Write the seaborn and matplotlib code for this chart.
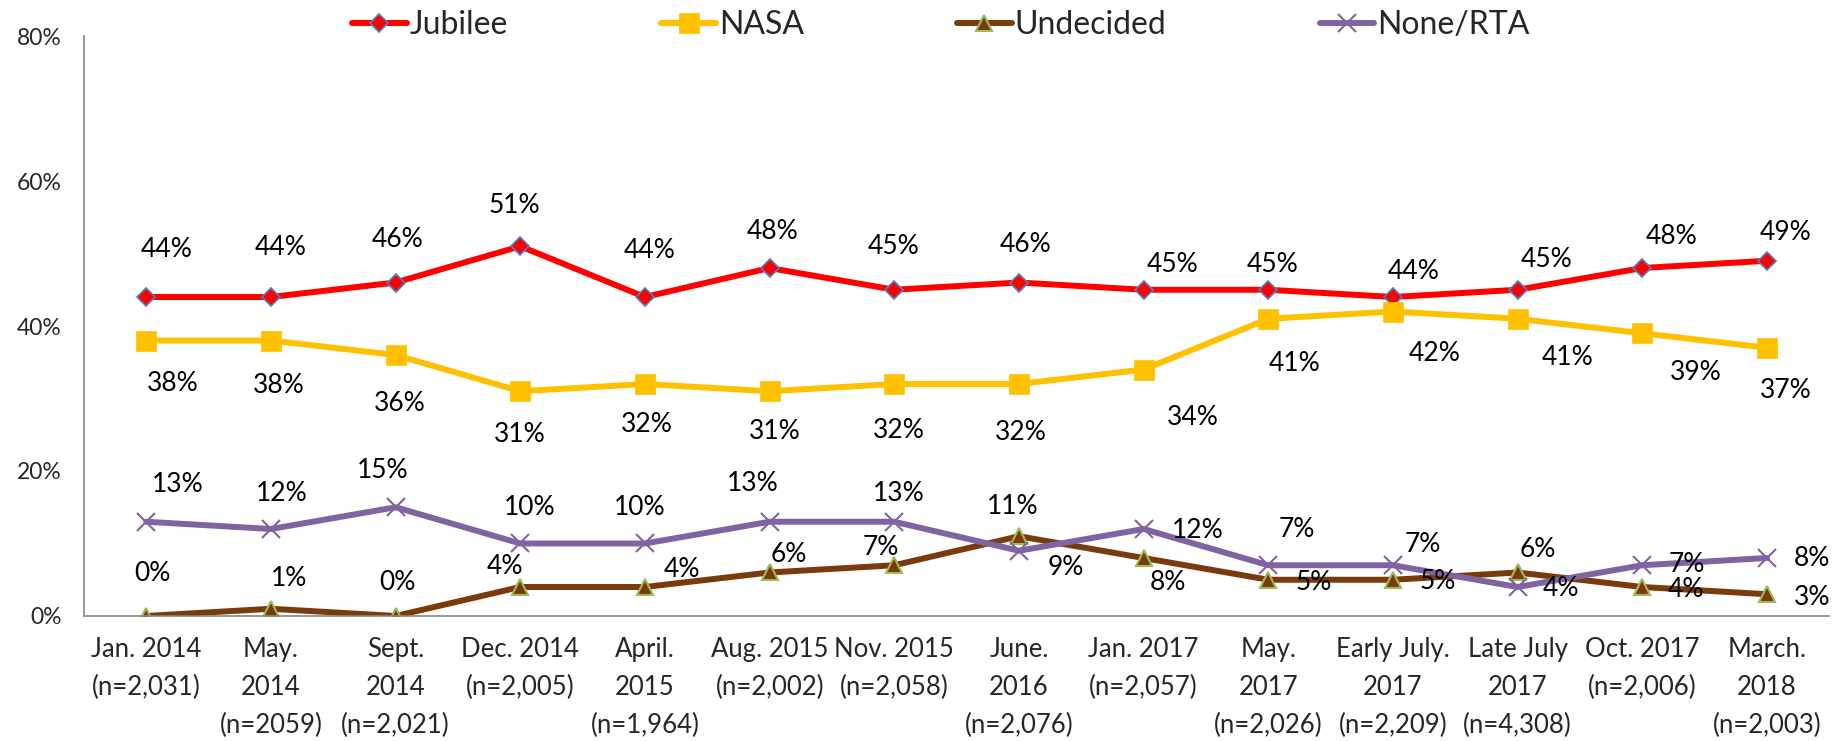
import numpy as np
import pandas as pd
import matplotlib
matplotlib.use("Agg")
import matplotlib.pyplot as plt
import seaborn as sns

# survey rounds (x axis)
surveys = ["Jan. 2014\n(n=2,031)", "May.\n2014\n(n=2059)", "Sept.\n2014\n(n=2,021)",
           "Dec. 2014\n(n=2,005)", "April.\n2015\n(n=1,964)", "Aug. 2015\n(n=2,002)",
           "Nov. 2015\n(n=2,058)", "June.\n2016\n(n=2,076)", "Jan. 2017\n(n=2,057)",
           "May.\n2017\n(n=2,026)", "Early July.\n2017\n(n=2,209)", "Late July\n2017\n(n=4,308)",
           "Oct. 2017\n(n=2,006)", "March.\n2018\n(n=2,003)"]

jubilee = [44, 44, 46, 51, 44, 48, 45, 46, 45, 45, 44, 45, 48, 49]
nasa = [38, 38, 36, 31, 32, 31, 32, 32, 34, 41, 42, 41, 39, 37]
undecided = [0, 1, 0, 4, 4, 6, 7, 11, 8, 5, 5, 6, 4, 3]
none_rta = [13, 12, 15, 10, 10, 13, 13, 9, 12, 7, 7, 4, 7, 8]

series_names = ["Jubilee", "NASA", "Undecided", "None/RTA"]

# styling per series
styles = {
    "Jubilee": dict(color="#FF0000", marker="D", markersize=9, mec="#4F81BD", mew=1.2),
    "NASA": dict(color="#FFC000", marker="s", markersize=14, mec="#FFC000", mew=0.5),
    "Undecided": dict(color="#7A3B0C", marker="^", markersize=12, mec="#9BBB59", mew=1.5),
    "None/RTA": dict(color="#8064A2", marker="x", markersize=13, mec="#8064A2", mew=1.5),
}

# data label offsets in pixels (dx, dy), placement only
label_offsets = {
    "Jubilee": [(20, 48), (10, 50), (2, 43), (-6, 41), (5, 47), (3, 37), (-1, 43),
                (7, 38), (29, 25), (4, 25), (21, 26), (29, 30), (29, 32), (19, 28)],
    "NASA": [(26, -43), (8, -45), (4, -48), (-1, -43), (2, -40), (5, -40), (5, -46),
             (2, -48), (49, -48), (26, -45), (42, -42), (50, -39), (53, -39), (19, -43)],
    "Undecided": [(6, 42), (18, 30), (2, 33), (-15, 20), (37, 17), (19, 18), (-13, 18),
                  (-6, 30), (24, -25), (45, -3), (45, -2), (20, 23), (44, -3), (45, -3)],
    "None/RTA": [(31, 37), (11, 35), (-13, 37), (9, 36), (-5, 36), (-17, 38), (4, 28),
                 (47, -17), (54, -2), (29, 36), (30, 21), (43, -2), (44, 1), (45, -1)],
}

df = pd.DataFrame({
    "survey": surveys * 4,
    "party": np.repeat(series_names, len(surveys)),
    "share": jubilee + nasa + undecided + none_rta,
})

sns.set_style("white")
plt.rcParams["font.family"] = ["Lato", "DejaVu Sans"]

fig, ax = plt.subplots(figsize=(18.45, 7.41), dpi=100)
fig.subplots_adjust(left=0.0455, right=0.9915, bottom=0.1687, top=0.9514)

for name in series_names:
    st = styles[name]
    sub = df[df["party"] == name]
    sns.lineplot(data=sub, x="survey", y="share", ax=ax, label=name, sort=False,
                 color=st["color"], linewidth=4.3, marker=st["marker"],
                 markersize=st["markersize"], markeredgecolor=st["mec"],
                 markeredgewidth=st["mew"], markerfacecolor=st["color"])
    for i, v in enumerate(sub["share"]):
        dx, dy = label_offsets[name][i]
        ax.annotate(f"{v}%", (i, v), xytext=(dx, dy), textcoords="offset pixels",
                    ha="center", va="center", fontsize=19, color="black")

ax.set_xlim(-0.5, len(surveys) - 0.5)
ax.set_ylim(0, 80)
ax.set_yticks([0, 20, 40, 60, 80])
ax.set_yticklabels([f"{t}%" for t in [0, 20, 40, 60, 80]], fontsize=16.5)

# category boundaries as major ticks, labels on minor ticks
ax.set_xticks(np.arange(-0.5, len(surveys), 1.0))
ax.set_xticklabels([])
ax.set_xticks(np.arange(len(surveys)), minor=True)
ax.set_xticklabels(surveys, minor=True, fontsize=18.5, linespacing=1.66)
ax.tick_params(axis="x", which="major", length=8, width=1.2, color="#868686", direction="out")
ax.tick_params(axis="x", which="minor", length=0, pad=15)
ax.tick_params(axis="y", length=6, width=1.2, color="#868686", direction="out", pad=10)
ax.set_xlabel("")
ax.set_ylabel("")

sns.despine(ax=ax, top=True, right=True)
for side in ["left", "bottom"]:
    ax.spines[side].set_color("#868686")
    ax.spines[side].set_linewidth(1.2)

ax.get_legend().remove()
handles, labels = ax.get_legend_handles_labels()
fig.legend(handles, labels, loc="center", bbox_to_anchor=(0.51, 0.966), ncol=4,
           frameon=False, fontsize=23, handlelength=1.7, handletextpad=0.1,
           columnspacing=4.8, numpoints=1)

fig.savefig("out.png", dpi=100)
